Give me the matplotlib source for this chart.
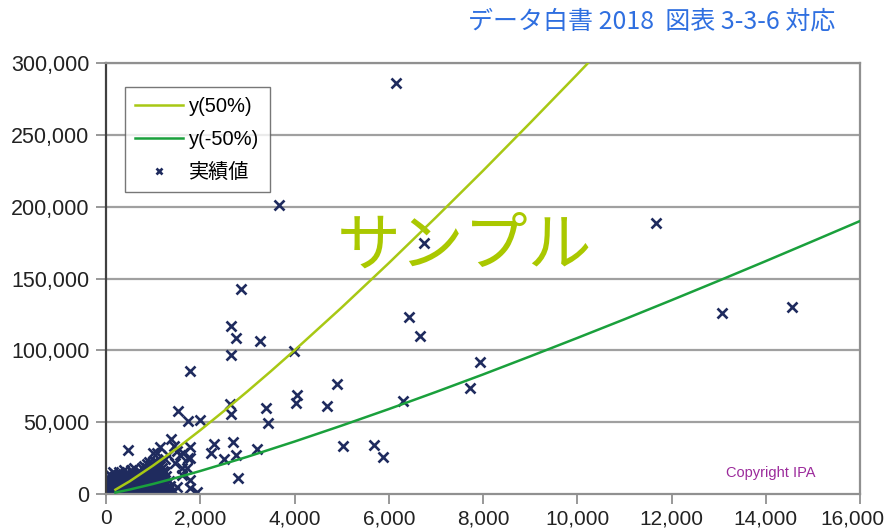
import matplotlib
matplotlib.use('Agg')
import matplotlib.pyplot as plt
import matplotlib.transforms as mtrans
from matplotlib.ticker import FuncFormatter

# outlying measured points (x, y)
pts_x = [6161, 3671, 11671, 6748, 2865, 6430, 13078, 14550, 6663, 7936,
         7724, 2650, 2760, 3274, 2646, 3996, 1776, 4908, 4046, 4032,
         3388, 3444, 4696, 6309, 3197, 5036, 5694, 5885, 2625, 2646,
         1521, 1734, 1989, 2285, 2222, 2701, 2765, 2510, 2795, 1783,
         1783, 1373, 1146, 1075, 1443, 1513, 1640, 1606, 1252, 474,
         1004, 1322, 1570, 1747, 1464, 1712, 1606, 1783, 1500, 1925,
         1783]
pts_y = [286300, 201000, 188450, 174530, 142700, 123440, 125800, 130400, 110200, 91690,
         73500, 116900, 108600, 106500, 96550, 99760, 85630, 76790, 68900, 63560,
         60100, 49400, 61470, 64950, 31330, 33200, 33900, 25760, 62650, 55690,
         57780, 51030, 51310, 34800, 28540, 36400, 26940, 24570, 10930, 32900,
         24850, 38280, 32500, 28750, 33400, 30150, 28330, 17890, 24150, 30630,
         28300, 27150, 27150, 24850, 21370, 17890, 13230, 9750, 5080, 1600,
         4180]

# dense cluster of small projects near the origin
cluster = [
    (20, 400), (60, 700), (110, 300), (150, 600), (200, 500), (260, 800), (320, 300), (380, 600),
    (450, 400), (520, 700), (600, 300), (680, 500), (760, 800), (850, 400), (950, 600), (1050, 300),
    (1150, 700), (1250, 500), (1380, 400),
    (30, 1500), (90, 1800), (140, 1300), (210, 1600), (270, 1900), (340, 1400), (410, 1700), (480, 1500),
    (560, 1200), (640, 1800), (720, 1500), (810, 1300), (900, 1700), (1000, 1500), (1120, 1900),
    (1220, 1400), (1330, 1600), (1450, 1800),
    (10, 3000), (70, 3300), (130, 2800), (190, 3100), (250, 2900), (310, 3400), (390, 3000), (460, 2700),
    (540, 3200), (620, 3000), (700, 3300), (790, 2800), (880, 3100), (980, 3000), (1090, 2900),
    (1200, 3300), (1310, 3000),
    (40, 4500), (100, 4800), (170, 4300), (240, 4600), (300, 4400), (370, 4900), (440, 4500), (520, 4200),
    (590, 4700), (670, 4500), (750, 4300), (840, 4800), (930, 4500), (1040, 4400), (1160, 4700), (1280, 4500),
    (20, 6000), (80, 6300), (160, 5800), (230, 6100), (290, 5900), (350, 6400), (430, 6000), (500, 5700),
    (580, 6200), (660, 6000), (740, 5800), (820, 6300), (910, 6000), (1010, 5900), (1120, 6200),
    (1230, 6000), (1360, 5800),
    (50, 7500), (120, 7800), (200, 7300), (280, 7600), (360, 7400), (450, 7900), (530, 7500), (610, 7200),
    (700, 7700), (790, 7500), (880, 7300), (960, 7800), (1060, 7500), (1180, 7400),
    (30, 9000), (110, 9300), (190, 8800), (270, 9100), (340, 8900), (420, 9400), (500, 9000), (580, 8700),
    (650, 9200), (730, 9000), (820, 8800), (900, 9300), (990, 9000), (1100, 8900), (1210, 9200), (1330, 9000),
    (60, 10500), (150, 10800), (240, 10300), (320, 10600), (410, 10400), (490, 10900), (570, 10500),
    (660, 10200), (750, 10700), (840, 10500), (930, 10300), (1020, 10800), (1140, 10500),
    (20, 12000), (100, 12300), (180, 11800), (270, 12100), (360, 11900), (440, 12400), (530, 12000),
    (620, 11700), (710, 12200), (800, 12000), (880, 11800), (970, 12300), (1060, 12000), (1180, 11900),
    (1270, 12200),
    (80, 13500), (190, 13800), (300, 13300), (400, 13600), (500, 13400), (590, 13900), (690, 13500),
    (780, 13200), (870, 13700), (960, 13500), (1050, 13300), (1150, 13800),
    (140, 15000), (280, 15300), (430, 14800), (560, 15100), (700, 14900), (820, 15400), (940, 15000),
    (1040, 14700), (1130, 15200), (1250, 15000),
    (380, 16500), (540, 16800), (690, 16300), (810, 16600), (920, 16400), (1010, 16900), (1100, 16500),
    (1200, 16200),
    (600, 18000), (760, 18300), (880, 17800), (980, 18100), (1080, 17900), (1190, 18200),
    (800, 19500), (930, 19800), (1040, 19300), (1150, 19600),
    (860, 21000), (980, 21300), (1100, 20800),
    (920, 22500), (1050, 22200),
]
cluster_x = [p[0] for p in cluster]
cluster_y = [p[1] for p in cluster]

# y(50%) and y(-50%) curves
up_x = [200, 500, 1000, 1500, 2000, 2500, 3000, 3500, 4000, 5000, 6000, 7000, 8000, 9000, 10000, 10270]
up_y = [3000, 8800, 19800, 31700, 44400, 57700, 71400, 85500, 100000, 129800, 160700, 192500,
        225000, 258300, 292100, 301400]
lo_x = [200, 500, 1000, 1500, 2000, 3000, 4000, 5000, 6000, 7000, 8000, 9000, 10000, 11000,
        12000, 13000, 14000, 15000, 16000]
lo_y = [1030, 3080, 7000, 11360, 16000, 25900, 36500, 47600, 59100, 71000, 83200, 95800, 108600,
        121600, 134900, 148400, 162100, 176000, 190000]

fonts = ['Liberation Sans', 'Noto Sans CJK JP', 'DejaVu Sans']
plt.rcParams['font.family'] = fonts

fig = plt.figure(figsize=(8.89, 5.31), dpi=100)
ax = fig.add_axes([106 / 889, 1 - 494 / 531, 754 / 889, 431 / 531])

for yv in range(50000, 300001, 50000):
    ax.axhline(yv, color='#a0a0a0', lw=1.6, zorder=0)

ax.plot(up_x, up_y, color='#a8c814', lw=1.8, label='y(50%)', zorder=3)
ax.plot(lo_x, lo_y, color='#1aa03c', lw=1.8, label='y(-50%)', zorder=3)
ax.plot(cluster_x, cluster_y, linestyle='none', marker='x', ms=6.5, mew=1.9,
        color='#1f2b5e', zorder=2)
ax.plot(pts_x, pts_y, linestyle='none', marker='x', ms=6.5, mew=1.9,
        color='#1f2b5e', label='実績値', zorder=2)

ax.set_xlim(0, 16000)
ax.set_ylim(0, 300000)
ax.set_xticks(range(0, 16001, 2000))
ax.set_yticks(range(0, 300001, 50000))
fmt = FuncFormatter(lambda v, p: '{:,.0f}'.format(v))
ax.xaxis.set_major_formatter(fmt)
ax.yaxis.set_major_formatter(fmt)
ax.tick_params(axis='both', direction='out', length=7, width=1.3, color='#909090',
               labelcolor='#222222')
ax.tick_params(axis='x', pad=4, labelsize=15)
ax.tick_params(axis='y', pad=5, labelsize=15.5)

# the last x label sits a little left of its tick, as in the original
last = ax.get_xticklabels()[-1]
last.set_transform(last.get_transform() + mtrans.ScaledTranslation(-8 / 100, 0, fig.dpi_scale_trans))

for s in ['top', 'right', 'bottom']:
    ax.spines[s].set_color('#909090')
    ax.spines[s].set_linewidth(1.6)
ax.spines['left'].set_color('#404040')
ax.spines['left'].set_linewidth(1.6)

leg = ax.legend(loc='upper left', bbox_to_anchor=(19 / 754, 1 - 24 / 431), borderaxespad=0,
                fontsize=14.5, frameon=True, fancybox=False, handlelength=2.4,
                markerscale=0.7, borderpad=0.5, labelspacing=0.7, handletextpad=0.3)
leg.get_frame().set_edgecolor('#555555')
leg.get_frame().set_linewidth(1.0)

ax.text(0.475, 0.575, 'サンプル', transform=ax.transAxes, fontsize=46,
        color='#aac800', ha='center', va='center', family=['Noto Sans CJK JP'], zorder=1)
ax.text(0.882, 0.049, 'Copyright IPA', transform=ax.transAxes, fontsize=10.5,
        color='#9b2a9b', ha='center', va='center')
fig.text(835 / 889, 1 - 22 / 531, 'データ白書 2018  図表 3-3-6 対応', fontsize=18,
         color='#2f6fe0', ha='right', va='center', family=['Noto Sans CJK JP', 'DejaVu Sans'])

fig.savefig('out.png', dpi=100)
